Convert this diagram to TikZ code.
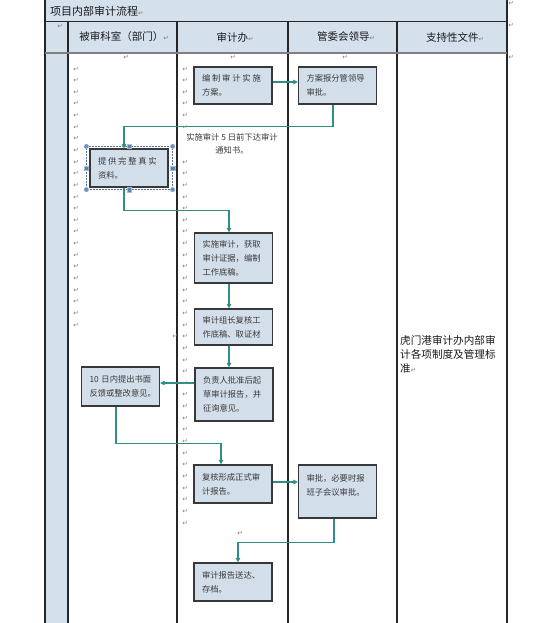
\documentclass[tikz,border=0pt]{standalone}
\usepackage{fontspec}
\setmainfont{Noto Sans CJK SC}
\newfontfamily\pmfont{DejaVu Sans}
\usetikzlibrary{arrows.meta,calc}
\definecolor{bandblue}{HTML}{D4E1ED}
\definecolor{boxfill}{HTML}{D2DEEA}
\definecolor{boxline}{HTML}{383838}
\definecolor{arrowteal}{HTML}{2E8F89}
\definecolor{txtgray}{HTML}{3A3A3A}
\definecolor{pmgray}{HTML}{7C7C7C}
\definecolor{handleblue}{HTML}{6E8FC0}
\newcommand{\pmk}{{\pmfont\fontsize{6.5}{7}\selectfont\textcolor{pmgray}{↵}}}
\newcommand{\cjsp}{\hspace{1.8pt}}
\begin{document}
\begin{tikzpicture}[x=1pt,y=-1pt,
  tline/.style={line width=1.1pt,draw=black!85},
  flowbox/.style={draw=boxline,line width=1.3pt,fill=boxfill,text=txtgray,
    font=\fontsize{8.3}{14}\selectfont,align=left,text width=62pt,inner xsep=8pt,
    inner ysep=0pt,minimum height=#1},
  flowbox/.default=38pt,
  arr/.style={draw=arrowteal,line width=1.1pt,-{Triangle[length=4.5pt,width=4.5pt]}},
  pm/.style={font=\pmfont\fontsize{6.5}{7}\selectfont,text=pmgray,inner sep=0pt},
  hdr/.style={font=\fontsize{10.5}{12}\selectfont,text=black!90,inner sep=0pt},
  handle/.style={circle,fill=handleblue,draw=handleblue!60!white,line width=0.4pt,minimum size=4.6pt,inner sep=0pt},
  handsq/.style={rectangle,fill=handleblue!90!black,draw=handleblue!60!white,line width=0.4pt,minimum size=4.2pt,inner sep=0pt}
]
\useasboundingbox (0,0) rectangle (536,623);
% table
\fill[bandblue] (45,-1) rectangle (507,53);
\fill[bandblue] (45,53) rectangle (68,625);
\draw[tline] (45,-1) -- (45,625);
\draw[tline] (507,-1) -- (507,625);
\draw[tline] (45,21.5) -- (507,21.5);
\foreach \xx in {68,177,288,397} \draw[tline] (\xx,21.5) -- (\xx,625);
\draw[line width=1.8pt,draw=black!50] (45,53) -- (507,53);

% title and headers
\node[hdr,anchor=west,font=\fontsize{11}{13}\selectfont] (title) at (50,11) {项目内部审计流程\pmk};
\node[hdr] (h1) at (124,37) {被审科室（部门）\pmk};
\node[hdr] (h2) at (235,37) {审计办\pmk};
\node[hdr] (h3) at (346,37) {管委会领导\pmk};
\node[hdr] (h4) at (455,37) {支持性文件\pmk};

% boxes
\node[flowbox=37pt] (A) at (233,85.5) {编\cjsp 制\cjsp 审\cjsp 计\cjsp 实\cjsp 施\\方案。};
\node[flowbox=37pt] (B) at (337.5,85.5) {方案报分管领导\\审批。};
\node[flowbox=38pt] (C) at (129,168) {提\cjsp 供\cjsp 完\cjsp 整\cjsp 真\cjsp 实\\资料。};
\node[flowbox=50pt] (D) at (233.5,258) {实施审计，获取\\审计证据，编制\\工作底稿。};
\node[flowbox=36pt] (E) at (233.5,327) {审计组长复核工\\作底稿、取证材};
\node[flowbox=53pt] (F) at (234,394.5) {负责人批准后起\\草审计报告，并\\征询意见。};
\node[flowbox=39pt] (G) at (120.5,386.5) {10 日内提出书面\\反馈或整改意见。};
\node[flowbox=38pt] (H) at (233,484) {复核形成正式审\\计报告。};
\node[flowbox=53pt] (I) at (337.5,491.5) {审批，必要时报\\班子会议审批。\\\mbox{}};
\node[flowbox=38pt] (J) at (233,582) {审计报告送达、\\存档。};

\node[font=\fontsize{8.3}{13}\selectfont,text=txtgray,align=center,inner sep=0pt] (notice) at (232,143.5) {实施审计 5 日前下达审计\\通知书。};
\node[font=\fontsize{10.6}{14}\selectfont,text=black!90,align=left,anchor=north west,inner sep=0pt] (support) at (400,335) {虎门港审计办内部审\\计各项制度及管理标\\准\pmk};

% selection handles around C
\draw[densely dotted,draw=handleblue!80!black,line width=0.5pt] ($(C.north west)+(-3,-2)$) rectangle ($(C.south east)+(4,2)$);
\node[handle] (hnw) at ($(C.north west)+(-3,-2)$) {};
\node[handle] (hne) at ($(C.north east)+(4,-2)$) {};
\node[handle] (hsw) at ($(C.south west)+(-3,2)$) {};
\node[handle] (hse) at ($(C.south east)+(4,2)$) {};
\node[handsq] (hn) at ($(C.north)+(0.5,-2)$) {};
\node[handsq] (hs) at ($(C.south)+(0.5,2)$) {};
\node[handsq] (hw) at ($(C.west)+(-3,0)$) {};
\node[handsq] (he) at ($(C.east)+(4,0)$) {};

% connectors
\draw[arr] ([yshift=3.5pt]A.east) -- ([yshift=3.5pt]B.west);
\draw[arr] ([xshift=-4.5pt]B.south) -- ++(0,22) -| ([xshift=-5pt]C.north);
\draw[arr] ([xshift=-5pt]C.south) -- ++(0,23) -| ([xshift=-4.5pt]D.north);
\draw[arr] ([xshift=-4.5pt]D.south) -- ([xshift=-4.5pt]E.north);
\draw[arr] ([xshift=-4.5pt]E.south) -- ([xshift=-5pt]F.north);
\draw[arr] ([yshift=11.5pt]F.west) -- ([yshift=3.5pt]G.east);
\draw[arr] ([xshift=-4.5pt]G.south) -- ++(0,37) -| ([xshift=-12pt]H.north);
\draw[arr] ([yshift=2pt]H.east) -- ([yshift=9.5pt]I.west);
\draw[arr] ([xshift=-3.5pt]I.south) -- ++(0,24) -| ([xshift=5pt]J.north);

% paragraph marks
\foreach \k in {0,...,22} \node[pm] (pa\k) at (76,{69+11.64*\k}) {↵};
\foreach \k in {0,...,5} \node[pm] (pb\k) at (185,{69+11.64*\k}) {↵};
\foreach \k in {8,...,39} \node[pm] (pc\k) at (185,{69+11.64*\k}) {↵};
\node[pm] (pd1) at (126,57) {↵};
\node[pm] (pd2) at (233,57) {↵};
\node[pm] (pd3) at (345,57) {↵};
\node[pm] (pd4) at (60,26) {↵};
\node[pm] (pd5) at (511,3) {↵};
\node[pm] (pd6) at (511,25) {↵};
\node[pm] (pd7) at (511,57) {↵};
\node[pm] (pd8) at (175,336) {↵};
\node[pm] (pd9) at (240,533) {↵};
\end{tikzpicture}
\end{document}
